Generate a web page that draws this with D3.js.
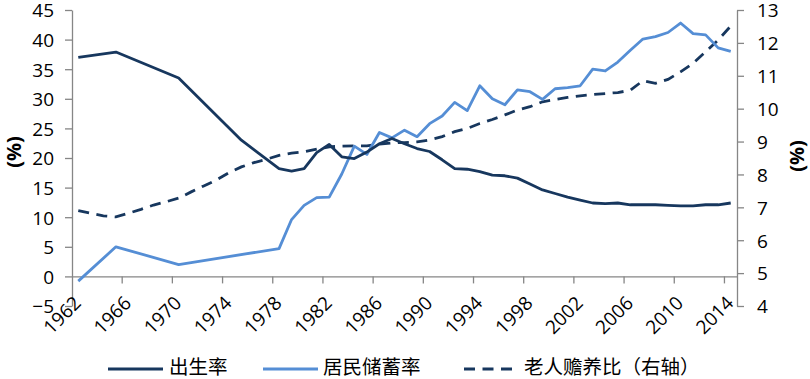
<!DOCTYPE html>
<html>
<head>
<meta charset="utf-8">
<script src="https://cdn.jsdelivr.net/npm/d3@7"></script>
<style>
  body { margin: 0; background: #fff; }
  svg { display: block; }
  .tick text { font-family: "Open Sans", "DejaVu Sans", sans-serif; font-size: 19px; fill: #000; }
</style>
</head>
<body>
<svg width="810" height="379"></svg>
<script>
// years on the category axis
var years = d3.range(1962, 2015);

// 出生率 (%), null = no data that year
var birthRate = [37.0,null,null,37.9,null,null,null,null,33.5,null,
  null,null,null,23.0,null,null,18.2,17.8,18.2,20.9,
  22.3,20.2,19.9,21.0,22.4,23.3,22.4,21.6,21.1,19.7,
  18.2,18.1,17.7,17.1,17.0,16.6,15.6,14.6,14.0,13.4,
  12.9,12.4,12.3,12.4,12.1,12.1,12.1,12.0,11.9,11.9,
  12.1,12.1,12.4];

// 居民储蓄率 (%)
var savingRate = [-0.8,null,null,5.0,null,null,null,null,2.0,null,
  null,null,null,null,null,null,4.7,9.6,12.0,13.3,
  13.4,17.3,22.0,20.6,24.3,23.4,24.7,23.6,25.8,27.1,
  29.4,28.0,32.2,30.0,29.0,31.5,31.2,29.9,31.7,31.9,
  32.2,35.0,34.7,36.2,38.2,40.1,40.5,41.2,42.8,41.0,
  40.8,38.6,38.0];

// 老人赡养比 (右轴, %)
var oldDep = [6.90,6.82,6.74,6.71,6.82,6.94,7.07,7.17,7.28,7.47,
  7.65,7.83,8.05,8.23,8.36,8.46,8.58,8.65,8.69,8.77,
  8.84,8.86,8.87,8.87,8.92,8.96,8.97,8.99,9.05,9.15,
  9.30,9.40,9.55,9.67,9.81,9.96,10.06,10.21,10.28,10.34,
  10.39,10.43,10.46,10.49,10.56,10.85,10.77,10.89,11.12,11.38,
  11.73,12.09,12.51];

var leftTicks = d3.range(-5, 50, 5);
var rightTicks = d3.range(4, 14, 1);
var labelYears = years.filter(function(y){ return (y-1962)%4==0; });

var legendNames = ["出生率", "居民储蓄率", "老人赡养比（右轴）"];

var svg = d3.select("svg");
var plotL = 72, plotR = 737, plotT = 10, plotB = 306;
var axisColor = "#868686";
var navy = "#17375E", blue = "#558ED5";

var x = d3.scaleBand().domain(years).range([plotL, plotR]).padding(0);
var yL = d3.scaleLinear().domain([-5, 45]).range([plotB, plotT]);
var yR = d3.scaleLinear().domain([4, 13]).range([plotB, plotT]);
function cx(yr){ return x(yr) + x.bandwidth()/2; }

// left axis
var gL = svg.append("g").attr("transform", "translate(" + plotL + ",0)")
  .call(d3.axisLeft(yL).tickValues(leftTicks).tickSize(7).tickSizeOuter(0).tickPadding(11));
// right axis
var gR = svg.append("g").attr("transform", "translate(" + plotR + ",0)")
  .call(d3.axisRight(yR).tickValues(rightTicks).tickSize(7).tickSizeOuter(0).tickPadding(13));
[gL, gR].forEach(function(g){
  g.select(".domain").attr("stroke", axisColor).attr("stroke-width", 1.3);
  g.selectAll(".tick line").attr("stroke", axisColor).attr("stroke-width", 1.3);
  g.selectAll(".tick text").attr("dy", "0.36em");
});

// category axis at zero
var y0 = yL(0);
var gX = svg.append("g").attr("transform", "translate(0," + y0 + ")")
  .call(d3.axisBottom(x).tickValues(labelYears).tickSize(0).tickSizeOuter(0));
gX.select(".domain").attr("stroke", axisColor).attr("stroke-width", 1.3);
gX.selectAll(".tick text")
  .attr("text-anchor", "end")
  .attr("x", 4).attr("y", 28).attr("dy", 0)
  .attr("transform", "rotate(-45,4,28)");
// tick marks between categories every 4 years
gX.selectAll(".cat-tick").data(labelYears.slice(1)).enter().append("line")
  .attr("x1", function(d){ return x(d); }).attr("x2", function(d){ return x(d); })
  .attr("y1", 0).attr("y2", 7)
  .attr("stroke", axisColor).attr("stroke-width", 1.3);

// axis titles
svg.append("text").text("(%)")
  .attr("transform", "translate(13,152) rotate(-90)")
  .attr("text-anchor", "middle").attr("dominant-baseline", "central")
  .style("font-family", "Open Sans, sans-serif").style("font-size", "20px").style("font-weight", "bold");
svg.append("text").text("(%)")
  .attr("transform", "translate(796,156) rotate(-90)")
  .attr("text-anchor", "middle").attr("dominant-baseline", "central")
  .style("font-family", "Open Sans, sans-serif").style("font-size", "20px").style("font-weight", "bold");

// lines (gaps are bridged, like the original)
function series(vals){
  return years.map(function(yr, i){ return {yr: yr, v: vals[i]}; })
    .filter(function(d){ return d.v != null; });
}
var lineL = d3.line().x(function(d){ return cx(d.yr); }).y(function(d){ return yL(d.v); });
var lineR = d3.line().x(function(d){ return cx(d.yr); }).y(function(d){ return yR(d.v); });

svg.append("path").datum(series(oldDep)).attr("d", lineR)
  .attr("fill", "none").attr("stroke", navy).attr("stroke-width", 2.8)
  .attr("stroke-dasharray", "11,7.5");
svg.append("path").datum(series(savingRate)).attr("d", lineL)
  .attr("fill", "none").attr("stroke", blue).attr("stroke-width", 2.8)
  .attr("stroke-linejoin", "round");
svg.append("path").datum(series(birthRate)).attr("d", lineL)
  .attr("fill", "none").attr("stroke", navy).attr("stroke-width", 2.8)
  .attr("stroke-linejoin", "round");

// legend
var legendX = [[108, 163, 169], [263, 318, 323], [464, 517, 524]];
var legendStyle = [{c: navy, d: null}, {c: blue, d: null}, {c: navy, d: "11,7.5"}];
var lg = svg.append("g");
legendNames.forEach(function(name, i){
  lg.append("line")
    .attr("x1", legendX[i][0]).attr("x2", legendX[i][1])
    .attr("y1", 369).attr("y2", 369)
    .attr("stroke", legendStyle[i].c).attr("stroke-width", 3)
    .attr("stroke-dasharray", legendStyle[i].d);
  lg.append("text").text(name)
    .attr("x", legendX[i][2]).attr("y", 374)
    .style("font-family", "Noto Sans CJK SC, sans-serif").style("font-size", "19.5px").style("fill", "#000");
});
</script>
</body>
</html>
